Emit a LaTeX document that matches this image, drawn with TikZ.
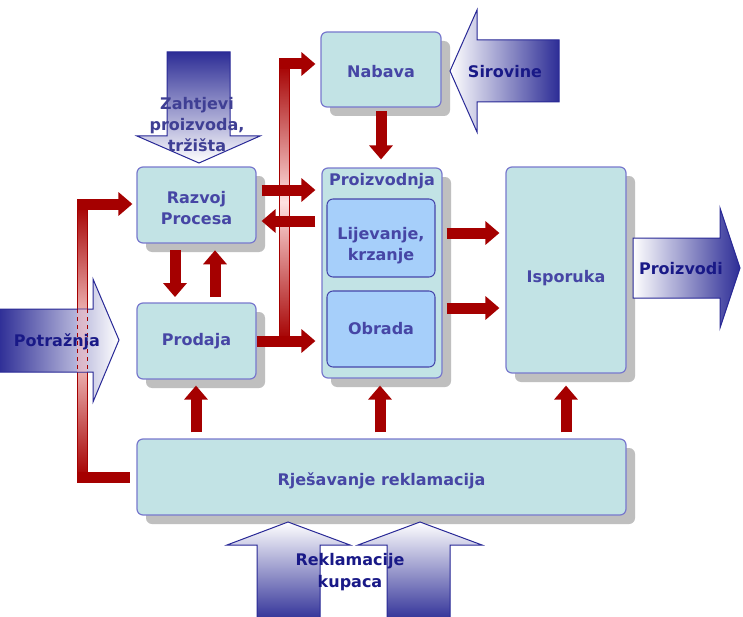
\documentclass[tikz,border=0pt]{standalone}
\usepackage{fontspec}
\setmainfont{DejaVu Sans}
\usetikzlibrary{arrows.meta,shadows,fit}
\definecolor{boxfill}{RGB}{194,227,229}
\definecolor{boxline}{RGB}{120,120,205}
\definecolor{innerfill}{RGB}{166,207,250}
\definecolor{innerline}{RGB}{70,70,170}
\definecolor{boxtext}{RGB}{70,70,165}
\definecolor{navytext}{RGB}{25,25,135}
\definecolor{darkred}{RGB}{165,0,0}
\definecolor{arrowblue}{RGB}{45,45,150}
\definecolor{arrowline}{RGB}{40,40,150}
\newcommand\dfont{\fontsize{12}{15.75}\selectfont\bfseries}
\tikzset{
  box/.style={draw=boxline, line width=0.9pt, fill=boxfill, rounded corners=4.5pt,
    inner sep=0pt,
    drop shadow={shadow xshift=6.75pt, shadow yshift=-6.75pt, fill=black!25, opacity=1}},
  innerbox/.style={draw=innerline, line width=0.8pt, fill=innerfill, rounded corners=4.5pt,
    inner sep=0pt},
  rarr/.style={draw=darkred, line width=8.25pt, -{Triangle[width=17.25pt,length=10.5pt]}},
  rline/.style={draw=darkred, line width=8.25pt},
  rbar/.style={draw=darkred, line width=0.75pt, top color=darkred, bottom color=darkred, middle color=red!12},
  bluearr/.style={draw=arrowline, line width=0.75pt},
  arrtext/.style={font=\dfont, text=navytext, align=center, inner sep=0pt},
  lbltext/.style={font=\dfont, text=boxtext, align=center, inner sep=0pt},
}
\begin{document}
\begin{tikzpicture}[x=0.75pt,y=-0.75pt]
\useasboundingbox (0,0) rectangle (743,617);
\fill[white] (0,0) rectangle (743,617);
\clip (0,0) rectangle (743,617);

% gradient bars (behind)
\path[rbar] (279,64) rectangle (289,340);
\path[rbar] (77,204) rectangle (87,477);

% boxes
\node[box, fit={(321,32) (441,107)}] (nabava) {};
\node[lbltext] (nabavat) at ([yshift=-1.5pt]nabava.center) {Nabava};
\node[box, fit={(137,167) (256,243)}] (razvoj) {};
\node[lbltext] (razvojt) at ([yshift=-2.5pt]razvoj.center) {Razvoj\\Procesa};
\node[box, fit={(137,303) (256,379)}] (prodaja) {};
\node[lbltext] (prodajat) at (prodaja.center) {Prodaja};
\node[box, fit={(322,168) (442,378)}] (proizvodnja) {};
\node[lbltext, anchor=north, yshift=-4pt] (proizlbl) at (proizvodnja.north) {Proizvodnja};
\node[innerbox, fit={(327,199) (435,277)}] (lijevanje) {};
\node[lbltext] (lijevanjet) at ([yshift=-6pt]lijevanje.center) {Lijevanje,\\krzanje};
\node[innerbox, fit={(327,291) (435,367)}] (obrada) {};
\node[lbltext] (obradat) at (obrada.center) {Obrada};
\node[box, fit={(506,167) (626,373)}] (isporuka) {};
\node[lbltext] (isporukat) at ([yshift=-6pt]isporuka.center) {Isporuka};
\node[box, fit={(137,439) (626,515)}] (rjes) {};
\node[lbltext] (rjest) at ([yshift=-2.5pt]rjes.center) {Rješavanje reklamacija};

% red connectors
\coordinate (mtop) at (279,64);
\coordinate (ltop) at (77,204);
\coordinate (lbot) at (77,477);
\draw[rarr, shorten >=3.75pt] (mtop) -- (mtop -| nabava.west);
\draw[rarr, shorten >=4.5pt] (prodaja.east) -- (prodaja.east -| proizvodnja.west);
\draw[rarr, shorten >=3pt] (ltop) -- (ltop -| razvoj.west);
\draw[rline, shorten >=4.5pt] (lbot) -- (lbot -| rjes.west);

\draw[rarr, shorten <=2.5pt, shorten >=6pt] (nabava.south) -- (nabava.south |- proizvodnja.north);
\draw[rarr, shorten <=3.75pt, shorten >=4.5pt] (razvoj.east |- 0,190) -- (proizvodnja.west |- 0,190);
\draw[rarr, shorten <=4.5pt, shorten >=3.75pt] (proizvodnja.west |- 0,221) -- (razvoj.east |- 0,221);
\draw[rarr, shorten <=5pt, shorten >=4pt] (175,0 |- razvoj.south) -- (175,0 |- prodaja.north);
\draw[rarr, shorten <=4pt, shorten >=5pt] (215,0 |- prodaja.north) -- (215,0 |- razvoj.south);
\draw[rarr, shorten <=3pt, shorten >=4.5pt] (proizvodnja.east |- 0,233) -- (isporuka.west |- 0,233);
\draw[rarr, shorten <=3pt, shorten >=4.5pt] (proizvodnja.east |- 0,308) -- (isporuka.west |- 0,308);
\draw[rarr, shorten <=4.5pt, shorten >=4.5pt] (196,0 |- rjes.north) -- (196,0 |- prodaja.south);
\draw[rarr, shorten <=4.5pt, shorten >=5.25pt] (380,0 |- rjes.north) -- (380,0 |- proizvodnja.south);
\draw[rarr, shorten <=4.5pt, shorten >=9pt] (566,0 |- rjes.north) -- (566,0 |- isporuka.south);

% block arrows
\path[bluearr, top color=arrowblue, bottom color=white]
  (167,52) -- (230,52) -- (230,136) -- (260,136) -- (199,163) -- (137,136) -- (167,136) -- cycle;
\node[lbltext, text=boxtext!90!black] (zahtjevi) at (197,125) {Zahtjevi\\proizvoda,\\tržišta};

\path[bluearr, left color=white, right color=arrowblue]
  (559,40) -- (477,40) -- (477,10) -- (450,71) -- (477,132) -- (477,102) -- (559,102) -- cycle;
\node[arrtext] (sirovine) at (505,72) {Sirovine};

\path[bluearr, left color=white, right color=arrowblue]
  (633,238) -- (720,238) -- (720,208) -- (740,268) -- (720,328) -- (720,298) -- (633,298) -- cycle;
\node[arrtext] (proizvodi) at (681,269) {Proizvodi};

\path[bluearr, left color=arrowblue, right color=white]
  (-2,309) -- (93,309) -- (93,279) -- (119,340) -- (93,402) -- (93,372) -- (-2,372) -- cycle;
\path[fill=red!30, fill opacity=0.45] (77,309) rectangle (87,372);
\draw[darkred, line width=0.75pt, dashed] (77,309) -- (77,372) (87,309) -- (87,372);
\node[arrtext] (potraznja) at (57,342) {Potražnja};

\path[bluearr, top color=white, bottom color=arrowblue]
  (257,622) -- (257,545) -- (227,545) -- (288,522) -- (350,545) -- (320,545) -- (320,622) -- cycle;
\path[bluearr, top color=white, bottom color=arrowblue]
  (387,622) -- (387,545) -- (358,545) -- (420,522) -- (482,545) -- (450,545) -- (450,622) -- cycle;
\node[arrtext, font=\fontsize{12}{16.5}\selectfont\bfseries] (reklamacije) at (350,572) {Reklamacije\\kupaca};
\end{tikzpicture}
\end{document}
